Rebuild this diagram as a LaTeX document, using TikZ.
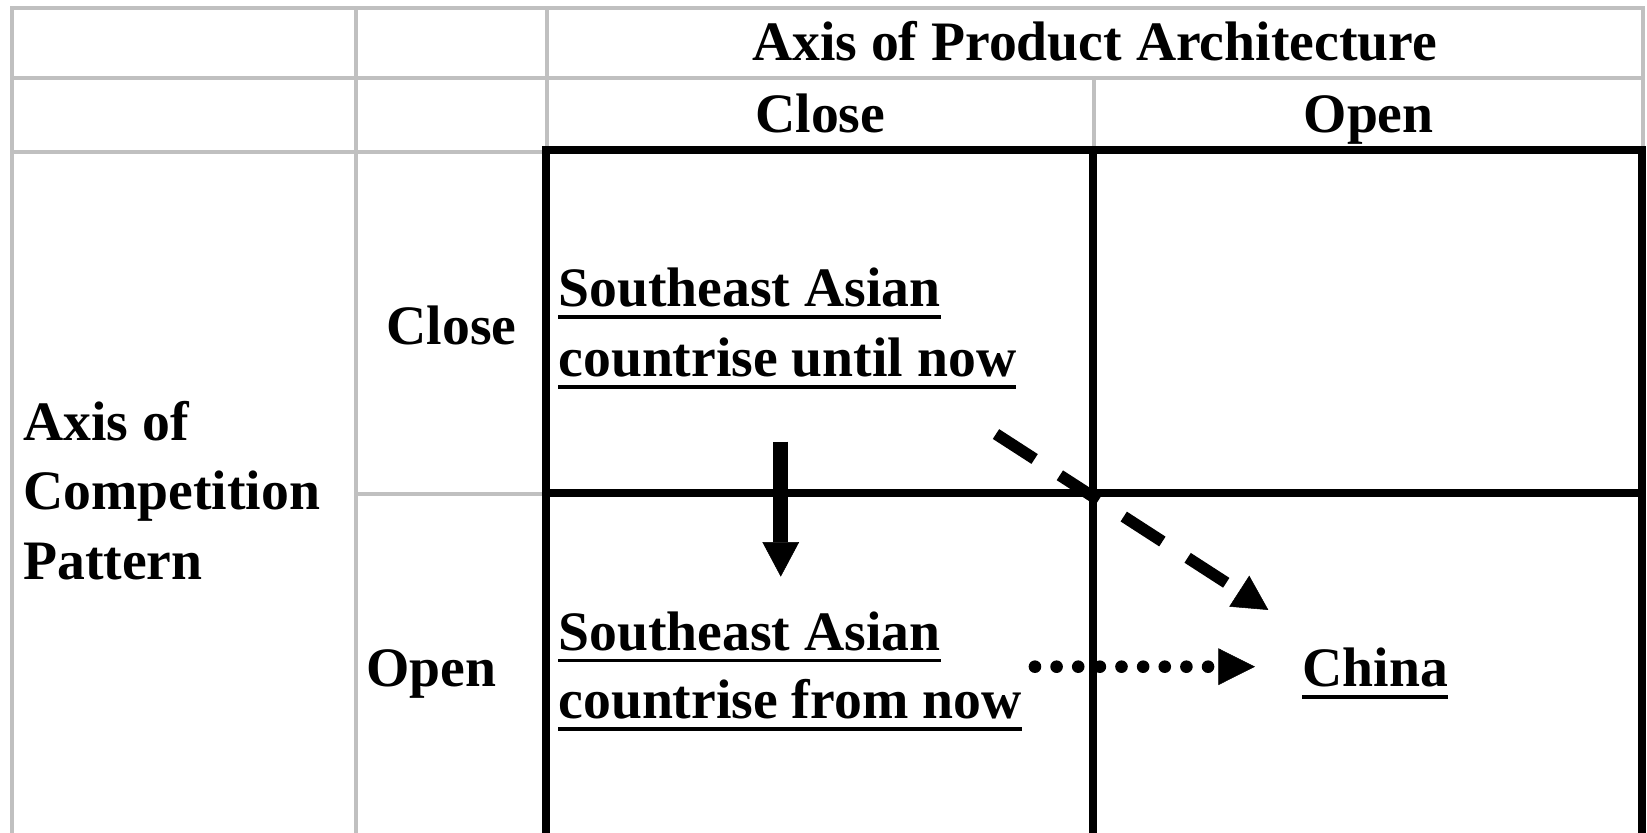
\documentclass[tikz,border=0pt]{standalone}
\usepackage{fontspec}
\setmainfont{Liberation Serif}
\usetikzlibrary{arrows.meta}
\definecolor{gridgrey}{RGB}{192,192,192}
\begin{document}
\begin{tikzpicture}[x=1pt,y=-1pt,
  greyline/.style={draw=gridgrey,line width=4pt,line cap=rect},
  blackline/.style={draw=black,line width=7.6pt,line cap=rect},
  lbl/.style={inner sep=0pt,font=\fontsize{53}{66}\selectfont\bfseries},
  uline/.style={draw=black,line width=3.4pt},
  solidarrow/.style={draw=black,line width=14.3pt,-{Triangle[length=33pt,width=35pt,line width=0.5pt]}},
  dasharrow/.style={draw=black,line width=11.1pt,line join=round,dash pattern=on 43.8pt off 28.6pt,-{Triangle[length=33pt,width=35pt,line width=0.5pt]}},
  dotarrow/.style={draw=black,line width=12pt,line cap=round,dash pattern=on 0pt off 20.6pt,-{Triangle[length=35pt,width=35pt,line width=0.5pt]}}]
\useasboundingbox (0,0) rectangle (1568,793);
\begin{scope}
\clip (0,0) rectangle (1568,793);
% grey grid
\draw[greyline] (11.8,800) -- (11.8,7.6) -- (1564,7.6) -- (1564,142.8);
\draw[greyline] (11.8,74.3) -- (1564,74.3);
\draw[greyline] (11.8,144.7) -- (519.8,144.7);
\draw[greyline] (338.9,7.6) -- (338.9,800);
\draw[greyline] (521,7.6) -- (521,142.8);
\draw[greyline] (1041.5,74.3) -- (1041.5,142.8);
\draw[greyline] (338.9,470.5) -- (519.8,470.5);
% black matrix
\draw[blackline,line cap=butt,line join=miter] (519.8,800) -- (519.8,142.8) -- (1563.5,142.8) -- (1563.5,800);
\draw[blackline,line cap=butt] (1040.6,142.8) -- (1040.6,800);
\draw[blackline,line cap=butt] (519.8,469.2) -- (1563.5,469.2);
\end{scope}
% labels
\node[lbl,anchor=base] (axisprod) at (1042,57.5) {Axis of Product Architecture};
\node[lbl,anchor=base] (closeh) at (781,126) {Close};
\node[lbl,anchor=base] (openh) at (1303,126) {Open};
\node[lbl,anchor=base] (closev) at (430,328) {Close};
\node[lbl,anchor=base west] (openv) at (348.5,654) {Open};
\node[lbl,anchor=base west] (ax1) at (22,419) {Axis of};
\node[lbl,anchor=base west] (ax2) at (22,485.5) {Competition};
\node[lbl,anchor=base west] (ax3) at (22,551.5) {Pattern};
\node[lbl,anchor=base west] (tl1) at (531.5,292) {Southeast Asian};
\node[lbl,anchor=base west] (tl2) at (531.5,358.6) {countrise until now};
\node[lbl,anchor=base west] (bl1) at (531.5,619) {Southeast Asian};
\node[lbl,anchor=base west] (bl2) at (531.5,684) {countrise from now};
\node[lbl,anchor=base west] (china) at (1240,653.7) {China};
\foreach \n in {tl1,tl2,bl1,bl2,china}
  \draw[uline] ([yshift=-10pt]\n.base west) -- ([yshift=-10pt]\n.base east);
% connectors
\coordinate (vs) at (743.3,420.5);
\coordinate (ve) at (743.3,549);
\draw[solidarrow] (vs) -- (ve);
\coordinate (ds) at (948.2,413.2);
\coordinate (de) at (1207.5,580.7);
\draw[dasharrow] (ds) -- (de);
\coordinate (ts) at (985.3,634.7);
\coordinate (te) at (1194.8,634.7);
\draw[dotarrow] (ts) -- (te);
\end{tikzpicture}
\end{document}
